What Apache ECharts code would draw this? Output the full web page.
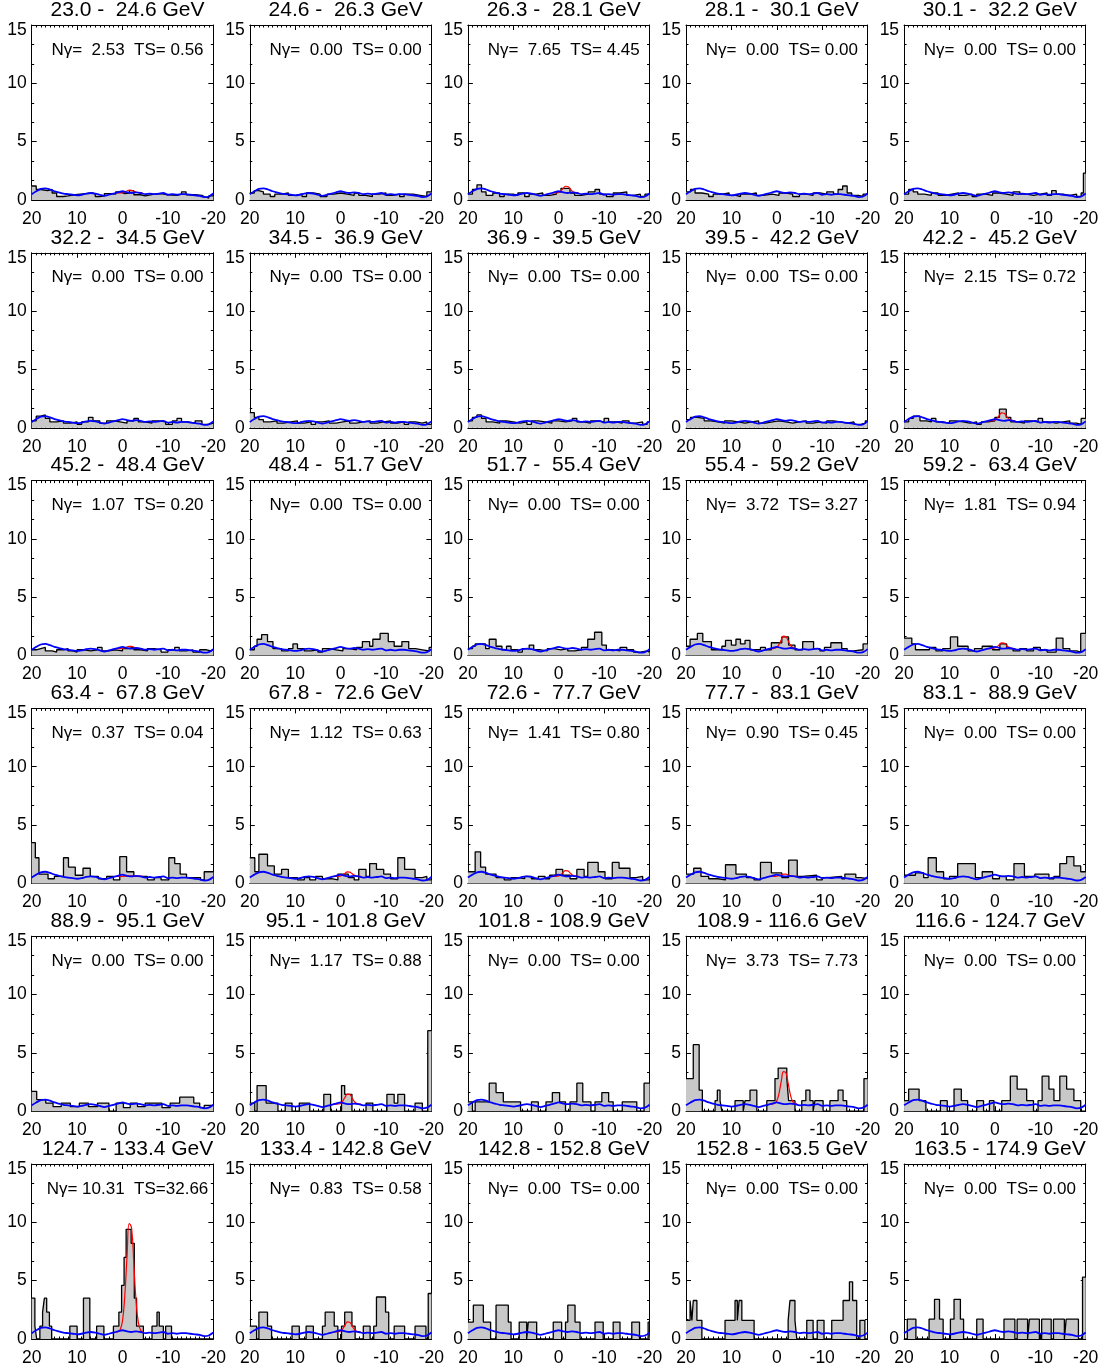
<!DOCTYPE html>
<html>
<head>
<meta charset="utf-8">
<script src="https://cdn.jsdelivr.net/npm/echarts@6/dist/echarts.min.js"></script>
<style>
  html, body { margin: 0; padding: 0; background: #fff; }
  #main { width: 1104px; height: 1367px; }
</style>
</head>
<body>
<div id="main"></div>
<script>
// energy bin edges (GeV), 30 panels
var E_EDGES = [23.0, 24.6, 26.3, 28.1, 30.1, 32.2, 34.5, 36.9, 39.5, 42.2, 45.2, 48.4, 51.7, 55.4, 59.2,
               63.4, 67.8, 72.6, 77.7, 83.1, 88.9, 95.1, 101.8, 108.9, 116.6, 124.7, 133.4, 142.8, 152.8, 163.5, 174.9];
var N_GAMMA = [2.53, 0, 7.65, 0, 0,  0, 0, 0, 0, 2.15,  1.07, 0, 0, 3.72, 1.81,
               0.37, 1.12, 1.41, 0.90, 0,  0, 1.17, 0, 3.73, 0,  10.31, 0.83, 0, 0, 0];
var TS_VAL  = [0.56, 0, 4.45, 0, 0,  0, 0, 0, 0, 0.72,  0.20, 0, 0, 3.27, 0.94,
               0.04, 0.63, 0.80, 0.45, 0,  0, 0.88, 0, 7.73, 0,  32.66, 0.58, 0, 0, 0];

// histograms: pairs [left edge (from 20 going down), value], last bin ends at -20
var HIST = [
  // 23.0 - 24.6
  [20,1.2, 19,0.9, 18,0.8, 16.5,0.9, 15.5,0.6, 14.5,0.3, 13,0.35, 12,0.45, 10.5,0.55, 8,0.6, 6.5,0.5, 6,0.3, 5,0.35, 4,0.55, 2.5,0.5, 1.5,0.7, 0.5,0.55, -0.5,0.6, -1.5,0.8, -2.5,0.45, -4,0.35, -5,0.5, -7,0.55, -8.5,0.45, -10,0.4, -12,0.5, -13,0.7, -14,0.45, -16,0.4, -17.5,0.3, -18,0.15, -19,0.35],
  // 24.6 - 26.3
  [20,0.6, 19,0.8, 18,0.7, 17,0.5, 15.5,0.3, 14.5,0.5, 13,0.6, 11.5,0.4, 10,0.5, 8.5,0.3, 7.5,0.6, 6,0.5, 4.5,0.3, 3,0.5, 1.5,0.6, 0,0.5, -1.5,0.4, -3,0.6, -4,0.4, -5.5,0.3, -7,0.5, -8.5,0.6, -10,0.4, -11.5,0.5, -13,0.3, -14,0.5, -16,0.4, -17.5,0.3, -19,0.7],
  // 26.3 - 28.1
  [20,0.5, 19,0.9, 18,1.3, 17,0.7, 16,0.4, 14.5,0.6, 13,0.3, 12,0.5, 10,0.4, 9,0.6, 7.5,0.3, 6.5,0.5, 5,0.6, 3.5,0.4, 2,0.5, 0.5,0.7, -0.5,1.0, -2.5,0.6, -3.5,0.4, -5,0.5, -6.5,0.7, -8,0.9, -9,0.5, -10.5,0.3, -12,0.6, -13.5,0.7, -15,0.4, -16.5,0.5, -18,0.3, -19,0.5],
  // 28.1 - 30.1
  [20,0.7, 19,0.9, 18,0.6, 16.5,0.5, 15,0.3, 14,0.5, 12,0.6, 10.5,0.4, 9,0.3, 8,0.5, 6,0.6, 4.5,0.4, 3,0.5, 1,0.4, -0.5,0.6, -2,0.5, -3.5,0.3, -5,0.5, -6.5,0.4, -8,0.6, -9.5,0.5, -11,0.7, -12.5,0.5, -13.5,0.9, -14.5,1.2, -15.5,0.6, -16.5,0.4, -18,0.3, -19,0.5],
  // 30.1 - 32.2
  [20,0.5, 19,0.9, 18,0.7, 17,0.5, 15.5,0.4, 14,0.6, 12.5,0.4, 11,0.5, 9.5,0.6, 8,0.4, 6.5,0.5, 5,0.3, 4,0.5, 2,0.4, 0.5,0.6, -1,0.5, -2.5,0.4, -4,0.7, -5.5,0.5, -7,0.4, -8.5,0.5, -10,0.6, -11.5,0.4, -12.5,0.8, -13.5,0.5, -15,0.4, -16.5,0.5, -18,0.3, -19,0.6, -19.5,2.3],
  // 32.2 - 34.5
  [20,0.6, 19,1.0, 18,1.1, 17,0.8, 16,0.5, 14.5,0.6, 13,0.4, 11.5,0.5, 10,0.3, 9,0.5, 7.5,0.9, 6.5,0.6, 5,0.4, 3.5,0.6, 2,0.5, 0.5,0.4, -1,0.6, -2.5,0.8, -3.5,0.5, -5,0.4, -6.5,0.6, -8,0.5, -9.5,0.3, -11,0.6, -12,0.8, -13,0.5, -14.5,0.4, -16,0.6, -17.5,0.3, -19,0.4],
  // 34.5 - 36.9
  [20,1.3, 19,0.9, 18,0.7, 17,0.5, 15.5,0.6, 14,0.4, 12.5,0.5, 11,0.6, 9.5,0.4, 8,0.5, 6.5,0.3, 5.5,0.5, 4,0.6, 2.5,0.4, 1,0.5, -0.5,0.6, -2,0.4, -3.5,0.5, -5,0.6, -6.5,0.4, -8,0.5, -9.5,0.6, -11,0.4, -12.5,0.5, -14,0.3, -15,0.5, -16.5,0.4, -18,0.5, -19,0.3],
  // 36.9 - 39.5
  [20,0.6, 19,0.9, 18,1.1, 17,0.8, 16,0.5, 14.5,0.4, 13,0.6, 11.5,0.5, 10,0.4, 8.5,0.5, 7,0.3, 6,0.6, 4.5,0.5, 3,0.4, 1.5,0.6, 0,0.5, -1.5,0.6, -3,0.8, -4,0.5, -5.5,0.4, -7,0.6, -8.5,0.5, -10,0.8, -11,0.5, -12.5,0.4, -14,0.6, -15.5,0.4, -17,0.5, -18.5,0.3, -19.5,0.5],
  // 39.5 - 42.2
  [20,0.7, 19,0.9, 17.5,0.8, 16,0.6, 14.5,0.5, 13,0.4, 11.5,0.6, 10,0.5, 8.5,0.4, 7,0.5, 5.5,0.6, 4,0.4, 2.5,0.5, 1,0.6, -0.5,0.5, -2,0.4, -3.5,0.5, -5,0.6, -6.5,0.4, -8,0.5, -9.5,0.4, -11,0.6, -12.5,0.5, -14,0.4, -15.5,0.5, -17,0.3, -18.5,0.4, -19.5,0.6],
  // 42.2 - 45.2
  [20,0.5, 19,0.8, 18,1.0, 16.5,0.6, 15,0.5, 14,0.8, 13,0.5, 11.5,0.4, 10,0.6, 8.5,0.5, 7,0.4, 5.5,0.5, 4,0.3, 3,0.5, 1.5,0.6, 0,0.9, -1,1.6, -2.5,0.9, -3.5,0.5, -5,0.4, -6.5,0.6, -8,0.5, -9.5,0.8, -10.5,0.5, -12,0.4, -13.5,0.5, -15,0.6, -16.5,0.4, -18,0.3, -19,0.8],
  // 45.2 - 48.4
  [20,0.5, 19,0.6, 18,0.7, 17,0.4, 15.5,0.3, 14.5,0.5, 13,0.6, 12,0.4, 11,0.3, 10,0.5, 8.5,0.4, 7,0.5, 5.5,0.7, 4.5,0.4, 3,0.5, 1.5,0.4, 0,0.6, -1,0.7, -2.5,0.5, -4,0.4, -5.5,0.6, -7,0.5, -8.5,0.3, -10,0.5, -11.5,0.7, -12.5,0.4, -14,0.5, -15.5,0.3, -17,0.5, -18.5,0.4, -19.5,0.5],
  // 48.4 - 51.7
  [20,0.5, 19,0.8, 18.4,1.4, 17.4,1.8, 16.1,1.2, 14.9,0.6, 13,0.4, 11.5,0.6, 10.5,1.0, 9.5,0.6, 8,0.4, 6.5,0.5, 5,0.3, 4,0.6, 2.5,0.5, 1,0.4, -0.5,0.6, -2,0.5, -3.5,0.7, -4.8,1.2, -6.4,0.8, -7.1,1.4, -8.7,1.9, -10.5,1.2, -11.8,0.8, -13.5,1.2, -15,0.6, -16.5,0.5, -18,0.4, -19.5,0.7],
  // 51.7 - 55.4
  [20,0.6, 19,0.8, 18.4,1.0, 16.1,0.6, 15.3,1.4, 13.8,0.8, 12.5,0.5, 11.5,0.8, 10.5,0.5, 9,0.3, 8,0.6, 6.5,0.9, 5.5,0.5, 4,0.4, 2.5,0.6, 1,0.5, -0.5,0.6, -2,0.4, -3.5,0.5, -5,0.7, -6.4,1.4, -7.9,2.0, -9.5,0.9, -10.5,0.5, -12,0.4, -13.5,0.7, -15,0.5, -16.5,0.3, -18,0.4, -19.5,0.3],
  // 55.4 - 59.2
  [20,0.8, 19.1,1.4, 17.5,1.9, 16.3,1.2, 14.4,0.5, 12.1,0.8, 11.3,1.3, 10,0.9, 9,1.4, 8,1.0, 7,1.3, 5.9,0.5, 3.6,0.7, 2.5,0.5, 1.2,1.1, -1.1,1.6, -2.6,0.9, -4,0.5, -5.7,1.2, -8.1,0.6, -9.5,0.4, -10.5,0.7, -11.9,1.1, -14.3,0.6, -15.5,0.4, -17,0.5, -19,1.0],
  // 59.2 - 63.4
  [20,1.5, 18.3,1.0, 17.5,0.5, 14.4,0.7, 13,0.4, 11.5,0.6, 9.8,1.6, 8.2,0.8, 5.9,0.4, 4.5,0.6, 2.8,0.8, 0.5,0.5, -1.1,1.0, -2.6,0.6, -4,0.4, -5.5,0.6, -7,0.4, -8.5,0.7, -10,0.5, -11.5,0.3, -13.5,1.5, -15,0.6, -16.5,0.4, -18,0.3, -18.9,1.9],
  // 63.4 - 67.8
  [20,3.5, 19.2,2.2, 18.4,0.8, 16.4,0.4, 15,0.6, 13,2.2, 11.9,1.4, 10.4,0.7, 8.7,1.3, 7.1,0.6, 5.3,0.4, 3.5,0.6, 2,0.3, 0.6,2.3, -0.9,1.0, -2.5,0.6, -5.5,0.3, -7,0.5, -8.5,0.3, -10.2,2.2, -11.5,1.7, -12.7,0.8, -14.1,0.5, -17.2,0.3, -18,1.0],
  // 67.8 - 72.6
  [20,2.2, 18.9,1.0, 18,2.5, 16.1,1.5, 14.6,0.8, 13,1.2, 11.5,0.5, 9.5,0.3, 8,0.5, 6.8,0.3, 5.5,0.6, 4,0.4, 2,0.3, 0.6,0.8, -1.7,0.5, -3,0.3, -4,1.2, -5.6,0.6, -6.4,1.7, -7.9,1.2, -9.5,0.8, -11,0.4, -12.6,2.2, -14.1,1.2, -16.4,0.5, -18,0.6, -19,0.3],
  // 72.6 - 77.7
  [20,1.0, 18.4,2.7, 17.2,1.4, 16.1,0.8, 13.8,0.5, 12,0.3, 10.5,0.5, 9,0.4, 7.5,0.6, 6,0.4, 4.5,0.6, 3,0.4, 2,0.7, 0.6,1.2, -0.9,0.7, -2.5,0.4, -4,1.2, -5.6,0.6, -6.4,1.8, -8.7,1.0, -10.2,0.4, -11.8,1.8, -13.3,1.3, -15.7,0.5, -17,0.6, -18.5,0.3],
  // 77.7 - 83.1
  [20,0.8, 18.3,1.3, 16.7,0.6, 15,0.4, 13,0.3, 11.3,1.6, 9,0.8, 6.7,0.5, 5,0.3, 3.6,1.8, 1.2,0.9, -1.1,0.5, -2.6,2.0, -4.5,0.6, -5.7,0.7, -8.8,0.3, -10,0.5, -11.2,0.6, -14.3,0.4, -15,0.8, -17.4,0.5, -18.5,0.4],
  // 83.1 - 88.9
  [20,0.7, 17.5,0.9, 15.7,0.5, 14.7,2.2, 12.9,1.0, 11.3,0.4, 10,0.6, 8.2,1.7, 4.3,0.5, 2.8,1.0, 0.5,0.4, -1,0.6, -2.5,0.3, -4.2,1.7, -6.5,0.6, -8.8,0.8, -11.9,0.4, -13,0.6, -14.3,1.7, -15.8,2.3, -17.4,1.5, -18.9,1.0],
  // 88.9 - 95.1
  [20,1.7, 18.9,1.0, 16.9,0.7, 15.3,0.4, 13.5,0.7, 11.5,0.4, 9.5,0.7, 7.5,0.4, 5.5,0.7, 3,0, 1.4,0.7, -0.2,0.3, -1.7,0.7, -3.3,0.4, -5,0.7, -7.1,0.7, -8.7,0.3, -10.5,0.7, -12.6,1.2, -15.7,0.7, -17,0.3, -18,0.5],
  // 95.1 - 101.8
  [20,0.7, 18.9,0, 18.4,2.2, 16.4,0.7, 13.8,0, 12.2,0.7, 10.7,0, 9.1,0.7, 6.8,0, 3.7,1.45, 2.2,0, -0.2,2.2, -0.9,1.45, -2.5,0, -5.6,0.7, -7.1,0, -10.2,1.45, -11.8,0.7, -12.6,1.45, -14.1,0, -16.4,0.7, -18,0, -19.2,6.9],
  // 101.8 - 108.9
  [20,0.8, 19,0, 18.4,0.8, 16.5,0.8, 15.3,2.4, 13.8,1.6, 12.2,0.8, 8.4,0, 6,0.8, 4.5,0, 2.8,0.8, 1.4,1.6, -0.2,0.8, -1.5,0, -2.5,0.8, -4,2.4, -5.3,0.8, -7.1,0, -8,0.8, -9.5,1.6, -11,0.8, -12,0, -14,0.8, -15.7,0.8, -17.2,0, -18.8,2.4],
  // 108.9 - 116.6
  [20,2.8, 18.4,5.7, 17.1,1.8, 16.4,0, 13.6,0.9, 13.1,1.8, 12.5,0.9, 12.1,0, 9.2,0.9, 7.4,0, 7.0,0.9, 5.9,1.8, 4.4,0, 2.2,0.9, 0.4,2.8, -0.3,3.7, -2.2,2.8, -2.6,0.9, -4.0,0, -5.5,0.9, -6.4,1.8, -7.3,0.9, -8.0,0, -8.4,0.9, -10.2,0, -11.7,0.9, -13.5,1.8, -14.6,0.9, -15.4,0, -19.2,2.8],
  // 116.6 - 124.7
  [20,0.9, 19,1.9, 16.7,0.9, 15.2,0, 12,0.9, 10.5,0, 9,1.9, 7.4,0.9, 6,0, 4,0.9, 2.5,0, 1.2,0.9, 0.2,0, -1.5,0.9, -3.4,3.0, -4.9,1.9, -7,0.9, -8.5,0, -9.5,0.9, -10.4,3.0, -11.9,1.9, -13,0.9, -14.3,3.0, -15.8,1.9, -17.4,0.9, -18.9,0],
  // 124.7 - 133.4
  [20,3.5, 19.3,1.1, 18.9,0, 18.2,1.1, 17.6,2.3, 17.2,3.5, 16.7,2.3, 16.1,1.1, 15.6,0, 11.6,1.1, 10.0,0, 8.6,3.5, 7.2,0, 5.7,1.1, 4.1,0, 2.0,1.1, 0.8,2.3, 0.2,4.6, -0.35,7.0, -0.8,9.4, -1.9,8.2, -2.6,3.5, -3.1,1.1, -4.6,0, -6.5,1.1, -7.6,2.3, -8.1,1.1, -9.0,0, -9.5,1.1, -10.8,0],
  // 133.4 - 142.8
  [20,1.1, 18.5,0, 18,2.3, 16.1,1.1, 15.2,0, 10.7,1.1, 9.1,0, 7.6,1.1, 6,0, 4,1.1, 3.4,2.3, 1.4,1.1, 0.6,0, -0.2,1.1, -0.9,2.3, -2.5,1.1, -3.2,0, -5,1.1, -6.5,0, -7.3,1.1, -7.9,3.6, -9.9,2.3, -10.6,0, -11.8,1.1, -14.1,0, -16.4,1.1, -18.8,0, -19.3,3.9],
  // 142.8 - 152.8
  [20,1.45, 18.8,2.9, 16.6,1.45, 15.0,0, 13.8,2.9, 11.1,1.45, 10.5,0, 8.7,1.45, 7.05,0, 6.7,1.45, 4.85,0, 1.2,1.45, -0.65,0, -1.5,1.45, -2,2.9, -3.6,1.45, -4.7,0, -8.0,1.45, -9.8,0, -12.0,1.45, -13.5,0, -16.1,1.45, -17.8,0, -19.7,1.45],
  // 152.8 - 163.5
  [20,1.6, 19.1,3.3, 18.7,1.6, 18.4,3.3, 17.6,1.6, 16.5,0, 11.4,1.6, 9.2,3.3, 8.7,1.6, 8.3,3.3, 7.7,1.6, 5.0,0, -2.5,1.6, -2.9,3.3, -4.0,1.6, -4.4,0, -6.6,1.6, -8.0,0, -8.9,1.6, -10.4,0, -12.1,1.6, -14.6,3.3, -16.0,4.9, -16.7,3.3, -17.6,0, -18.3,1.6, -19.4,0],
  // 163.5 - 174.9
  [20,0, 19.3,1.7, 17.4,0, 14.5,1.7, 13.3,3.4, 12.2,1.7, 11.4,0, 9.8,1.7, 9.0,3.4, 7.6,1.7, 6.9,0, 4.0,1.7, 2.6,0, -2.0,1.7, -4.4,0, -4.9,1.7, -7.2,0, -7.6,1.7, -9.8,0, -10.3,1.7, -12.4,0, -12.9,1.7, -15.3,0, -15.7,1.7, -18.4,0, -19.3,5.3]
];

// background model (blue), one value per unit from 20 down to -20
var BKG = [0.5, 0.75, 0.95, 1.0, 0.9, 0.75, 0.65, 0.55, 0.5, 0.45, 0.4, 0.45, 0.55, 0.6, 0.55, 0.45, 0.35, 0.45, 0.55, 0.65, 0.75,
           0.65, 0.6, 0.65, 0.6, 0.5, 0.55, 0.5, 0.55, 0.6, 0.45, 0.5, 0.45, 0.5, 0.5, 0.45, 0.4, 0.35, 0.25, 0.3, 0.55];

// line fit (red), only for panels with a signal
var RED_X = [1.5, 1, 0.5, 0, -0.5, -1, -1.5, -2, -2.5, -3, -3.5, -4, -4.5];
var RED = {
  0:  [0.6, 0.6, 0.61, 0.62, 0.68, 0.77, 0.84, 0.83, 0.75, 0.67, 0.62, 0.6, 0.6],
  2:  [0.6, 0.6, 0.61, 0.66, 0.8, 1.0, 1.18, 1.16, 0.97, 0.76, 0.65, 0.61, 0.6],
  9:  [0.6, 0.6, 0.62, 0.67, 0.83, 1.08, 1.28, 1.25, 1.03, 0.79, 0.66, 0.61, 0.6],
  10: [0.6, 0.6, 0.6, 0.62, 0.67, 0.74, 0.79, 0.79, 0.72, 0.65, 0.62, 0.6, 0.6],
  13: [0.6, 0.6, 0.63, 0.71, 0.96, 1.35, 1.67, 1.62, 1.27, 0.9, 0.69, 0.62, 0.6],
  14: [0.6, 0.6, 0.61, 0.65, 0.76, 0.94, 1.09, 1.07, 0.9, 0.73, 0.64, 0.61, 0.6],
  15: [0.6, 0.6, 0.6, 0.6, 0.62, 0.63, 0.65, 0.65, 0.63, 0.61, 0.6, 0.6, 0.6],
  16: [0.6, 0.6, 0.61, 0.64, 0.73, 0.87, 0.99, 0.97, 0.84, 0.71, 0.63, 0.61, 0.6],
  17: [0.6, 0.6, 0.61, 0.65, 0.76, 0.94, 1.09, 1.07, 0.9, 0.73, 0.64, 0.61, 0.6],
  18: [0.6, 0.6, 0.6, 0.62, 0.67, 0.74, 0.79, 0.79, 0.72, 0.65, 0.62, 0.6, 0.6],
  21: [0.6, 0.6, 0.62, 0.69, 0.89, 1.21, 1.47, 1.44, 1.15, 0.84, 0.67, 0.61, 0.6],
  23: [0.6, 0.61, 0.67, 0.9, 1.55, 2.6, 3.4, 3.3, 2.4, 1.4, 0.83, 0.65, 0.6],
  25: [0.6, 0.63, 0.82, 1.56, 3.7, 7.1, 9.9, 9.5, 6.4, 3.2, 1.4, 0.75, 0.6],
  26: [0.6, 0.6, 0.62, 0.69, 0.89, 1.21, 1.47, 1.44, 1.15, 0.84, 0.67, 0.61, 0.6]
};

// layout of the 5x6 panel grid
var L0 = 31.7, DX = 218.1, W = 181.6;
var T0 = 25, DY = 227.8, H = 175;
var FONT = '"Liberation Sans", Arial, sans-serif';

function f52(v) {
  var s = v.toFixed(2);
  while (s.length < 5) s = ' ' + s;
  return s;
}
function f51(v) {
  var s = v.toFixed(1);
  while (s.length < 5) s = ' ' + s;
  return s;
}

function drawChart() {
  var myChart = echarts.init(document.getElementById('main'));
  var grids = [], xAxes = [], yAxes = [], series = [], graphics = [];
  var tickLine = { color: '#000', width: 1 };

  for (var i = 0; i < 30; i++) {
    var row = Math.floor(i / 5), col = i % 5;
    var gl = L0 + col * DX, gt = T0 + row * DY;
    grids.push({ left: gl, top: gt, width: W, height: H, show: false, outerBoundsMode: 'none' });

    ['bottom', 'top'].forEach(function (pos) {
      xAxes.push({
        type: 'value', gridIndex: i, min: -20, max: 20, interval: 10, inverse: true, position: pos,
        axisLine: { show: true, onZero: false, lineStyle: tickLine },
        axisTick: { show: true, inside: true, length: 5, lineStyle: tickLine },
        minorTick: { show: true, splitNumber: 10, length: 2.5, lineStyle: tickLine },
        splitLine: { show: false },
        axisLabel: { show: pos === 'bottom', color: '#000', fontSize: 17.5, fontFamily: FONT, margin: 10 }
      });
    });
    ['left', 'right'].forEach(function (pos) {
      yAxes.push({
        type: 'value', gridIndex: i, min: 0, max: 15, interval: 5, position: pos,
        axisLine: { show: true, onZero: false, lineStyle: tickLine },
        axisTick: { show: true, inside: true, length: 5, lineStyle: tickLine },
        minorTick: { show: true, splitNumber: 3, length: 2.5, lineStyle: tickLine },
        splitLine: { show: false },
        axisLabel: { show: pos === 'left', color: '#000', fontSize: 17.5, fontFamily: FONT, margin: 5,
                     lineHeight: 10, verticalAlignMaxLabel: 'top' }
      });
    });

    // counts histogram
    var hist = HIST[i], pts = [];
    for (var k = 0; k < hist.length; k += 2) pts.push([hist[k], hist[k + 1]]);
    pts.push([-20, hist[hist.length - 1]]);
    series.push({
      type: 'line', xAxisIndex: 2 * i, yAxisIndex: 2 * i, data: pts, step: 'end',
      symbol: 'none', silent: true, z: 2,
      lineStyle: { color: '#000', width: 1.3 },
      areaStyle: { color: '#c8c8c8', opacity: 1 }
    });

    // fitted line
    if (RED[i]) {
      var rp = [];
      for (var k = 0; k < RED_X.length; k++) rp.push([RED_X[k], RED[i][k]]);
      series.push({
        type: 'line', xAxisIndex: 2 * i, yAxisIndex: 2 * i, data: rp, smooth: 0.5,
        symbol: 'none', silent: true, z: 3,
        lineStyle: { color: '#ff0000', width: 1.2 }
      });
    }

    // background
    var bp = [];
    for (var k = 0; k < BKG.length; k++) bp.push([20 - k, BKG[k]]);
    series.push({
      type: 'line', xAxisIndex: 2 * i, yAxisIndex: 2 * i, data: bp, smooth: 0.3,
      symbol: 'none', silent: true, z: 4,
      lineStyle: { color: '#0000ff', width: 1.8 }
    });

    // panel title and fit result
    var cx = gl + W / 2 + 5;
    graphics.push({
      type: 'text', x: cx, y: gt - 15, silent: true,
      style: { text: f51(E_EDGES[i]).trim() + ' - ' + f51(E_EDGES[i + 1]) + ' GeV', fill: '#000',
               font: '21px ' + FONT, align: 'center', verticalAlign: 'middle' }
    });
    graphics.push({
      type: 'text', x: cx, y: gt + 25, silent: true,
      style: { text: 'N\u03b3= ' + f52(N_GAMMA[i]) + '  TS=' + f52(TS_VAL[i]), fill: '#000',
               font: '17px ' + FONT, align: 'center', verticalAlign: 'middle' }
    });
  }

  myChart.setOption({
    backgroundColor: '#fff',
    animation: false,
    grid: grids,
    xAxis: xAxes,
    yAxis: yAxes,
    series: series,
    graphic: graphics
  }, true);
}

drawChart();
</script>
</body>
</html>
